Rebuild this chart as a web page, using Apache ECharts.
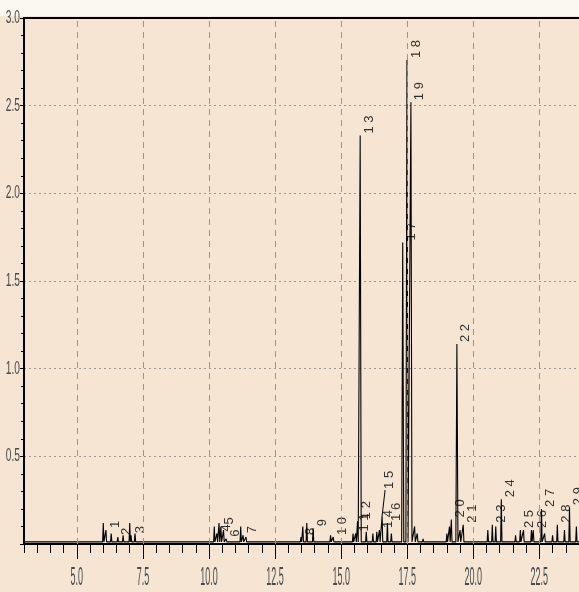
<!DOCTYPE html>
<html>
<head>
<meta charset="utf-8">
<script src="https://cdn.jsdelivr.net/npm/echarts@6/dist/echarts.min.js"></script>
<style>
html,body{margin:0;padding:0;background:#f5e5d2;}
#c{width:579px;height:592px;}
</style>
</head>
<body>
<div id="c"></div>
<script>
// ---- data ----
const peakLabels  = ['1','2','3','4','5','6','7','8','9','10','11','12','13','14','15','16','17','18','19','20','21','22','23','24','25','26','27','28','29'];
const peakTimes   = [6.10,6.55,7.05,10.30,10.45,10.65,11.29,13.48,13.94,14.70,15.55,15.62,15.72,16.45,16.55,16.75,17.33,17.49,17.64,19.17,19.62,19.38,20.72,21.06,21.78,22.27,22.58,23.18,23.64];
const peakHeights = [0.08,0.04,0.05,0.06,0.10,0.03,0.05,0.04,0.09,0.04,0.06,0.13,2.33,0.08,0.16,0.12,1.72,2.76,2.52,0.14,0.11,1.14,0.11,0.255,0.08,0.08,0.20,0.11,0.21];
// unlabelled small peaks / noise
const minorTimes   = [6.00,6.30,6.75,7.00,7.20,10.20,10.38,10.55,11.20,11.40,13.55,13.70,14.60,15.45,15.95,16.20,16.35,16.90,17.78,17.88,18.10,18.40,18.70,19.00,19.10,19.50,20.55,20.85,21.60,21.90,22.20,22.70,23.00,23.45,23.90];
const minorHeights = [0.12,0.06,0.05,0.12,0.06,0.10,0.12,0.08,0.10,0.04,0.10,0.12,0.05,0.06,0.07,0.06,0.07,0.06,0.10,0.06,0.03,0.02,0.02,0.06,0.10,0.08,0.08,0.10,0.05,0.08,0.08,0.06,0.05,0.08,0.10];
const baselineLevel = 0.012;
const xRange = [3, 24];
const xMajorTicks = [5.0,7.5,10.0,12.5,15.0,17.5,20.0,22.5];
const yTickLabels = [0.5,1.0,1.5,2.0,2.5,3.0];
const liftedLabel = '15';

// ---- build trace ----
const allPeaks = [];
peakTimes.forEach((t,i)=>allPeaks.push([t,peakHeights[i]]));
minorTimes.forEach((t,i)=>allPeaks.push([t,minorHeights[i]]));
allPeaks.sort((a,b)=>a[0]-b[0]);
const trace = [[xRange[0], baselineLevel]];
allPeaks.forEach(p=>{
  const w = p[1] > 0.5 ? 0.04 : 0.025;
  trace.push([p[0]-w, baselineLevel]);
  trace.push([p[0], p[1]]);
  trace.push([p[0]+w, baselineLevel]);
});
trace.push([xRange[1], baselineLevel]);

const labelData = [], liftedData = [];
peakTimes.forEach((t,i)=>{
  const d = [t, peakHeights[i], peakLabels[i]];
  (peakLabels[i]===liftedLabel ? liftedData : labelData).push(d);
});
const spaced = p=>String(p.value[2]).split('').join(' ');
const labelStyle = {fontFamily:'Liberation Sans', fontSize:13, color:'#000'};

const chart = echarts.init(document.getElementById('c'), null, {renderer:'canvas'});
chart.setOption({
  backgroundColor:'#f5e5d2',
  animation:false,
  grid:{left:24, right:0, top:18, bottom:48, containLabel:false},
  xAxis:[{
    type:'value', min:xRange[0], max:xRange[1], interval:0.5,
    axisLine:{show:true, onZero:false, lineStyle:{color:'#000', width:2}},
    axisTick:{show:true, length:9, lineStyle:{color:'#000', width:1}},
    axisLabel:{show:false},
    splitLine:{show:false}
  },{
    type:'value', min:xRange[0], max:xRange[1], position:'bottom',
    axisLine:{show:false, onZero:false},
    axisTick:{show:true, length:15, customValues:xMajorTicks, lineStyle:{color:'#000', width:1}},
    axisLabel:{show:false},
    splitLine:{show:false}
  },{
    type:'value', min:xRange[0], max:xRange[1], position:'top',
    axisLine:{show:true, onZero:false, lineStyle:{color:'#000', width:2}},
    axisTick:{show:false}, axisLabel:{show:false}, splitLine:{show:false}
  }],
  yAxis:{
    type:'value', min:0, max:3, interval:0.5,
    axisLine:{show:true, lineStyle:{color:'#000', width:2}},
    axisTick:{show:true, length:4, lineStyle:{color:'#000'}},
    minorTick:{show:true, splitNumber:5, length:3, lineStyle:{color:'#000'}},
    axisLabel:{show:false},
    splitLine:{show:true, lineStyle:{color:'#a09a92', type:[2,3], width:1}}
  },
  series:[{
    type:'line', name:'grid', data:[], z:1, silent:true,
    markLine:{silent:true, symbol:'none', label:{show:false},
      lineStyle:{color:'#9a948c', type:[6,5], width:1},
      data: xMajorTicks.map(v=>({xAxis:v}))}
  },{
    type:'line', name:'trace', data:trace, showSymbol:false, symbol:'none', z:3,
    lineStyle:{color:'#000', width:1.1}
  },{
    type:'scatter', name:'labels', data:labelData, symbolSize:0, z:4, silent:true,
    label:Object.assign({show:true, rotate:90, position:[9,-2], align:'left', verticalAlign:'middle', formatter:spaced}, labelStyle)
  },{
    type:'scatter', name:'liftedLabels', data:liftedData, symbolSize:0, z:4, silent:true,
    label:Object.assign({show:true, rotate:90, position:[7,-27], align:'left', verticalAlign:'middle', formatter:spaced}, labelStyle)
  }]
});

// tall, condensed axis labels and leader line placed through the axis scales
const gr = [{type:'rect', shape:{x:0,y:0,width:579,height:16}, style:{fill:'#fbf7f1'}, z:-1, silent:true}];
xMajorTicks.forEach(v=>{
  const px = chart.convertToPixel({xAxisIndex:0}, v);
  gr.push({type:'text', x:px, y:578, scaleX:0.75, scaleY:2.1, z:10,
    style:{text:v.toFixed(1), fontFamily:'Liberation Sans', fontSize:12, fill:'#4a4a4a', align:'center', verticalAlign:'middle'}});
});
yTickLabels.forEach(v=>{
  const py = chart.convertToPixel({yAxisIndex:0}, v);
  gr.push({type:'text', x:20, y:py, scaleX:0.85, scaleY:1.55, z:10,
    style:{text:v.toFixed(1), fontFamily:'Liberation Sans', fontSize:12, fill:'#4a4a4a', align:'right', verticalAlign:'middle'}});
});
liftedData.forEach(d=>{
  const p = chart.convertToPixel({xAxisIndex:0, yAxisIndex:0}, [d[0], d[1]]);
  gr.push({type:'line', z:10, silent:true,
    shape:{x1:p[0], y1:p[1], x2:p[0]+3, y2:p[1]-26}, style:{stroke:'#000', lineWidth:1}});
});
chart.setOption({graphic:gr});
</script>
</body>
</html>
